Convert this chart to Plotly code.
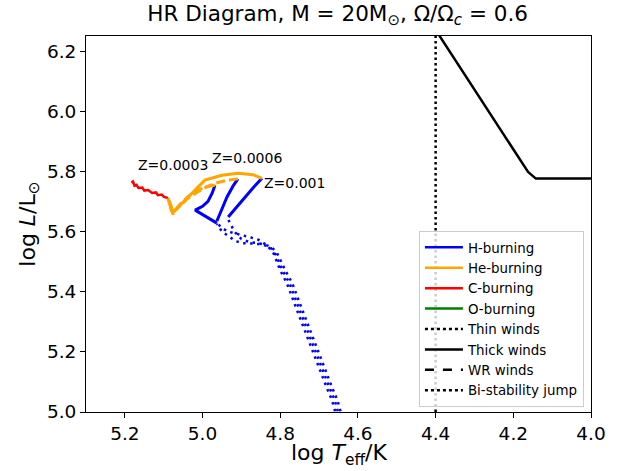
import plotly.graph_objects as go

# ---------------- data ----------------
# Main-sequence parts (H-burning, thin winds) for each metallicity
ms_thin_teff_z0001 = [4.640, 4.653, 4.666, 4.679, 4.692, 4.705, 4.717, 4.730, 4.743, 4.756, 4.769, 4.787, 4.797, 4.808, 4.822, 4.840, 4.860, 4.880, 4.900, 4.918, 4.934]
ms_thin_logl_z0001 = [4.98, 5.040, 5.080, 5.123, 5.163, 5.206, 5.249, 5.295, 5.339, 5.382, 5.428, 5.471, 5.500, 5.528, 5.548, 5.557, 5.562, 5.565, 5.575, 5.600, 5.640]

ms_thin_teff_z00006 = [4.647, 4.660, 4.673, 4.686, 4.699, 4.712, 4.724, 4.737, 4.750, 4.763, 4.776, 4.794, 4.803, 4.812, 4.826, 4.850, 4.873, 4.896, 4.915, 4.932, 4.950, 4.963]
ms_thin_logl_z00006 = [4.98, 5.040, 5.080, 5.123, 5.163, 5.206, 5.249, 5.295, 5.339, 5.382, 5.428, 5.471, 5.498, 5.524, 5.548, 5.558, 5.560, 5.561, 5.568, 5.585, 5.600, 5.625]

ms_thin_teff_z00003 = [4.654, 4.667, 4.680, 4.693, 4.706, 4.719, 4.731, 4.744, 4.757, 4.770, 4.783, 4.800, 4.808, 4.818, 4.835, 4.855, 4.875, 4.895, 4.915, 4.935, 4.950, 4.963]
ms_thin_logl_z00003 = [4.98, 5.040, 5.080, 5.123, 5.163, 5.206, 5.249, 5.295, 5.339, 5.382, 5.428, 5.471, 5.500, 5.530, 5.555, 5.572, 5.580, 5.587, 5.594, 5.600, 5.612, 5.628]

# H-burning, thick winds
h_thick_teff_z0001 = [4.934, 4.912, 4.890, 4.868, 4.847]
h_thick_logl_z0001 = [5.648, 5.680, 5.715, 5.748, 5.777]

h_thick_teff_z00006 = [4.963, 4.950, 4.937, 4.922, 4.909]
h_thick_logl_z00006 = [5.635, 5.675, 5.715, 5.750, 5.775]

h_thick_teff_z00003 = [4.963, 4.990, 5.019, 5.000, 4.986, 4.975, 4.968]
h_thick_logl_z00003 = [5.628, 5.650, 5.671, 5.684, 5.700, 5.728, 5.754]

# He-burning
he_teff_z0001 = [4.847, 4.870, 4.909, 4.950, 4.994, 5.019, 5.045, 5.063, 5.076, 5.082, 5.089]
he_logl_z0001 = [5.777, 5.789, 5.794, 5.787, 5.771, 5.737, 5.704, 5.681, 5.664, 5.690, 5.711]

he_teff_z00006 = [4.909, 4.935, 4.963, 4.990, 5.015, 5.040, 5.058, 5.072, 5.078, 5.084, 5.089]
he_logl_z00006 = [5.775, 5.771, 5.762, 5.748, 5.730, 5.708, 5.685, 5.668, 5.660, 5.688, 5.708]

he_teff_z00003 = [4.968, 4.990, 5.012, 5.035, 5.055, 5.068, 5.076, 5.082, 5.088]
he_logl_z00003 = [5.754, 5.750, 5.738, 5.718, 5.695, 5.675, 5.657, 5.685, 5.705]

# C-burning
c_teff = [5.089, 5.100, 5.105, 5.115, 5.120, 5.130, 5.140, 5.150, 5.155, 5.165, 5.170, 5.175, 5.179, 5.183]
c_logl = [5.711, 5.716, 5.723, 5.721, 5.730, 5.728, 5.738, 5.736, 5.746, 5.745, 5.755, 5.752, 5.766, 5.762]

# Thick-wind boundary and bi-stability jump
thick_teff = [4.430, 4.162, 4.142, 4.000]
thick_logl = [6.330, 5.798, 5.776, 5.776]
bistab_teff = [4.4, 4.4]
bistab_logl = [5.0, 6.25]

labels_text = ["Z=0.0003", "Z=0.0006", "Z=0.001"]
labels_teff = [5.172, 4.982, 4.848]
labels_logl = [5.820, 5.844, 5.761]

legend_names = ["H-burning", "He-burning", "C-burning", "O-burning",
                "Thin winds", "Thick winds", "WR winds", "Bi-stability jump"]

BLUE, ORANGE, RED, GREEN = "#0000ff", "#ffa500", "#ff0000", "#008000"
DOT = "2.5px,4.5px"

fig = go.Figure()

def add(x, y, color, dash="solid", width=3):
    fig.add_trace(go.Scatter(x=x, y=y, mode="lines", showlegend=False,
                             line=dict(color=color, width=width, dash=dash),
                             hoverinfo="skip"))

add(bistab_teff, bistab_logl, "black", "2.5px,3px", 2.5)
add(thick_teff, thick_logl, "black", "solid", 2.5)

for x, y in [(ms_thin_teff_z0001, ms_thin_logl_z0001),
             (ms_thin_teff_z00006, ms_thin_logl_z00006),
             (ms_thin_teff_z00003, ms_thin_logl_z00003)]:
    add(x, y, BLUE, DOT, 2.5)

for x, y in [(h_thick_teff_z0001, h_thick_logl_z0001),
             (h_thick_teff_z00006, h_thick_logl_z00006),
             (h_thick_teff_z00003, h_thick_logl_z00003)]:
    add(x, y, BLUE, "solid", 3)

add(c_teff, c_logl, RED, "solid", 2.5)
add(he_teff_z0001, he_logl_z0001, ORANGE, "solid", 3)
add(he_teff_z00006, he_logl_z00006, ORANGE, "9px,4px", 3)
add(he_teff_z00003, he_logl_z00003, ORANGE, "9px,4px", 3)

# legend entries
leg_styles = [(BLUE, "solid"), (ORANGE, "solid"), (RED, "solid"), (GREEN, "solid"),
              ("black", "dot"), ("black", "solid"), ("black", "dash"), ("black", "dot")]
for name, (c, d) in zip(legend_names, leg_styles):
    fig.add_trace(go.Scatter(x=[None], y=[None], mode="lines", name=name,
                             line=dict(color=c, width=2.5, dash=d)))

for t, x, y in zip(labels_text, labels_teff, labels_logl):
    fig.add_annotation(x=x, y=y, text=t, showarrow=False, xanchor="left",
                       yanchor="middle", font=dict(size=14, color="black"))

# x-axis title as a paper-positioned annotation
fig.add_annotation(x=0.5, y=-0.112, xref="paper", yref="paper",
                   text="log <i>T</i><sub>eff</sub>/K", showarrow=False,
                   xanchor="center", yanchor="middle", font=dict(size=22, color="black"))

axis_common = dict(showline=True, linecolor="black", linewidth=1, mirror=True,
                   ticks="outside", ticklen=5, tickwidth=1, tickcolor="black",
                   showgrid=False, zeroline=False, automargin=False,
                   tickfont=dict(size=18.5, color="black"))

fig.update_layout(
    width=627, height=471,
    margin=dict(l=86, r=36, t=36, b=59),
    paper_bgcolor="white", plot_bgcolor="white",
    font=dict(family="DejaVu Sans", color="black"),
    title=dict(text="HR Diagram, M = 20M<sub>⊙</sub>, Ω/Ω<sub><i>c</i></sub> = 0.6",
               x=0.5385, xanchor="center", y=0.972, yanchor="middle",
               font=dict(size=21.5)),
    xaxis=dict(range=[5.3, 4.0], tickvals=[5.2, 5.0, 4.8, 4.6, 4.4, 4.2, 4.0],
               ticktext=["5.2", "5.0", "4.8", "4.6", "4.4", "4.2", "4.0"],
               **axis_common),
    yaxis=dict(range=[5.0, 6.25], tickvals=[5.0, 5.2, 5.4, 5.6, 5.8, 6.0, 6.2],
               ticktext=["5.0", "5.2", "5.4", "5.6", "5.8", "6.0", "6.2"],
               title=dict(text="log <i>L</i>/L<sub>⊙</sub>", font=dict(size=22), standoff=5),
               **axis_common),
    legend=dict(x=0.986, y=0.013, xanchor="right", yanchor="bottom",
                bgcolor="rgba(255,255,255,0.8)", bordercolor="#cccccc", borderwidth=1,
                font=dict(size=13.4), itemwidth=38, tracegroupgap=0),
)

fig.write_html("out.html")
